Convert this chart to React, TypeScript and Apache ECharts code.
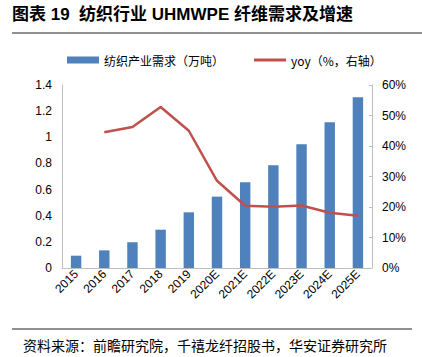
import React, { useEffect, useRef } from "react";
import * as echarts from "echarts";

const categories = ["2015", "2016", "2017", "2018", "2019", "2020E", "2021E", "2022E", "2023E", "2024E", "2025E"];
const demand = [0.094, 0.135, 0.197, 0.293, 0.426, 0.546, 0.656, 0.786, 0.946, 1.115, 1.306];
const yoy = [null, 44.5, 46.2, 52.8, 45.0, 28.6, 20.4, 20.1, 20.5, 18.1, 17.1];
const leftTicks = [0, 0.2, 0.4, 0.6, 0.8, 1, 1.2, 1.4];
const titleText = "图表 19  纺织行业 UHMWPE 纤维需求及增速";
const sourceText = "资料来源：前瞻研究院，千禧龙纤招股书，华安证券研究所";
const barName = "纺织产业需求（万吨）";
const lineName = "yoy（%，右轴）";

export default function App() {
  const ref = useRef<HTMLDivElement>(null);
  useEffect(() => {
    if (!ref.current) return;
    const chart = echarts.init(ref.current, null, { renderer: "svg" });
    const cjk = "'Liberation Sans', 'Noto Sans CJK SC', sans-serif";
    chart.setOption({
      animation: false,
      backgroundColor: "#ffffff",
      textStyle: { fontFamily: cjk },
      graphic: [
        {
          type: "text",
          left: 12,
          top: 6,
          style: { text: titleText, font: "bold 17px 'Liberation Sans', 'Noto Sans CJK SC', sans-serif", fill: "#000" },
        },
        { type: "line", shape: { x1: 12, y1: 33, x2: 422, y2: 33 }, style: { stroke: "#222", lineWidth: 1.2 } },
        { type: "line", shape: { x1: 12, y1: 329, x2: 412, y2: 329 }, style: { stroke: "#222", lineWidth: 1.2 } },
        {
          type: "text",
          left: 23,
          top: 338,
          style: { text: sourceText, font: "14px 'Noto Sans CJK SC', sans-serif", fill: "#000" },
        },
      ],
      legend: {
        top: 49,
        left: 62,
        itemGap: 30,
        itemWidth: 32,
        itemHeight: 7,
        textStyle: { fontSize: 12, color: "#000", fontFamily: "'Noto Sans CJK SC', sans-serif" },
        data: [
          { name: barName, icon: "rect" },
          { name: lineName, icon: "path://M0,0 L32,0 L32,3 L0,3 Z" },
        ],
      },
      grid: { left: 62, right: 50, top: 85, bottom: 89 },
      xAxis: {
        type: "category",
        data: categories,
        axisLine: { lineStyle: { color: "#bfbfbf" } },
        axisTick: { show: false },
        axisLabel: { rotate: 45, fontSize: 12, color: "#000", margin: 4, interval: 0 },
      },
      yAxis: [
        {
          type: "value",
          min: 0,
          max: 1.4,
          interval: 0.2,
          axisLine: { show: true, lineStyle: { color: "#bfbfbf" } },
          axisTick: { show: false },
          splitLine: { show: false },
          axisLabel: {
            fontSize: 12,
            color: "#000",
            margin: 10,
            formatter: (v: number) => {
              const t = leftTicks.find((x) => Math.abs(x - v) < 1e-6);
              return String(t !== undefined ? t : v);
            },
          },
        },
        {
          type: "value",
          min: 0,
          max: 60,
          interval: 10,
          position: "right",
          axisLine: { show: true, lineStyle: { color: "#bfbfbf" } },
          axisTick: { show: true, inside: true, length: 3, lineStyle: { color: "#bfbfbf" } },
          splitLine: { show: false },
          axisLabel: { fontSize: 12, color: "#000", margin: 10, formatter: "{value}%" },
        },
      ],
      series: [
        {
          name: barName,
          type: "bar",
          data: demand,
          barWidth: "37%",
          itemStyle: { color: "#4f81bd" },
        },
        {
          name: lineName,
          type: "line",
          yAxisIndex: 1,
          data: yoy,
          symbol: "none",
          lineStyle: { color: "#c0504d", width: 2.5 },
          itemStyle: { color: "#c0504d" },
        },
      ],
    });
    return () => chart.dispose();
  }, []);
  return <div ref={ref} style={{ width: 422, height: 357, position: "absolute", left: 0, top: 0 }} />;
}
